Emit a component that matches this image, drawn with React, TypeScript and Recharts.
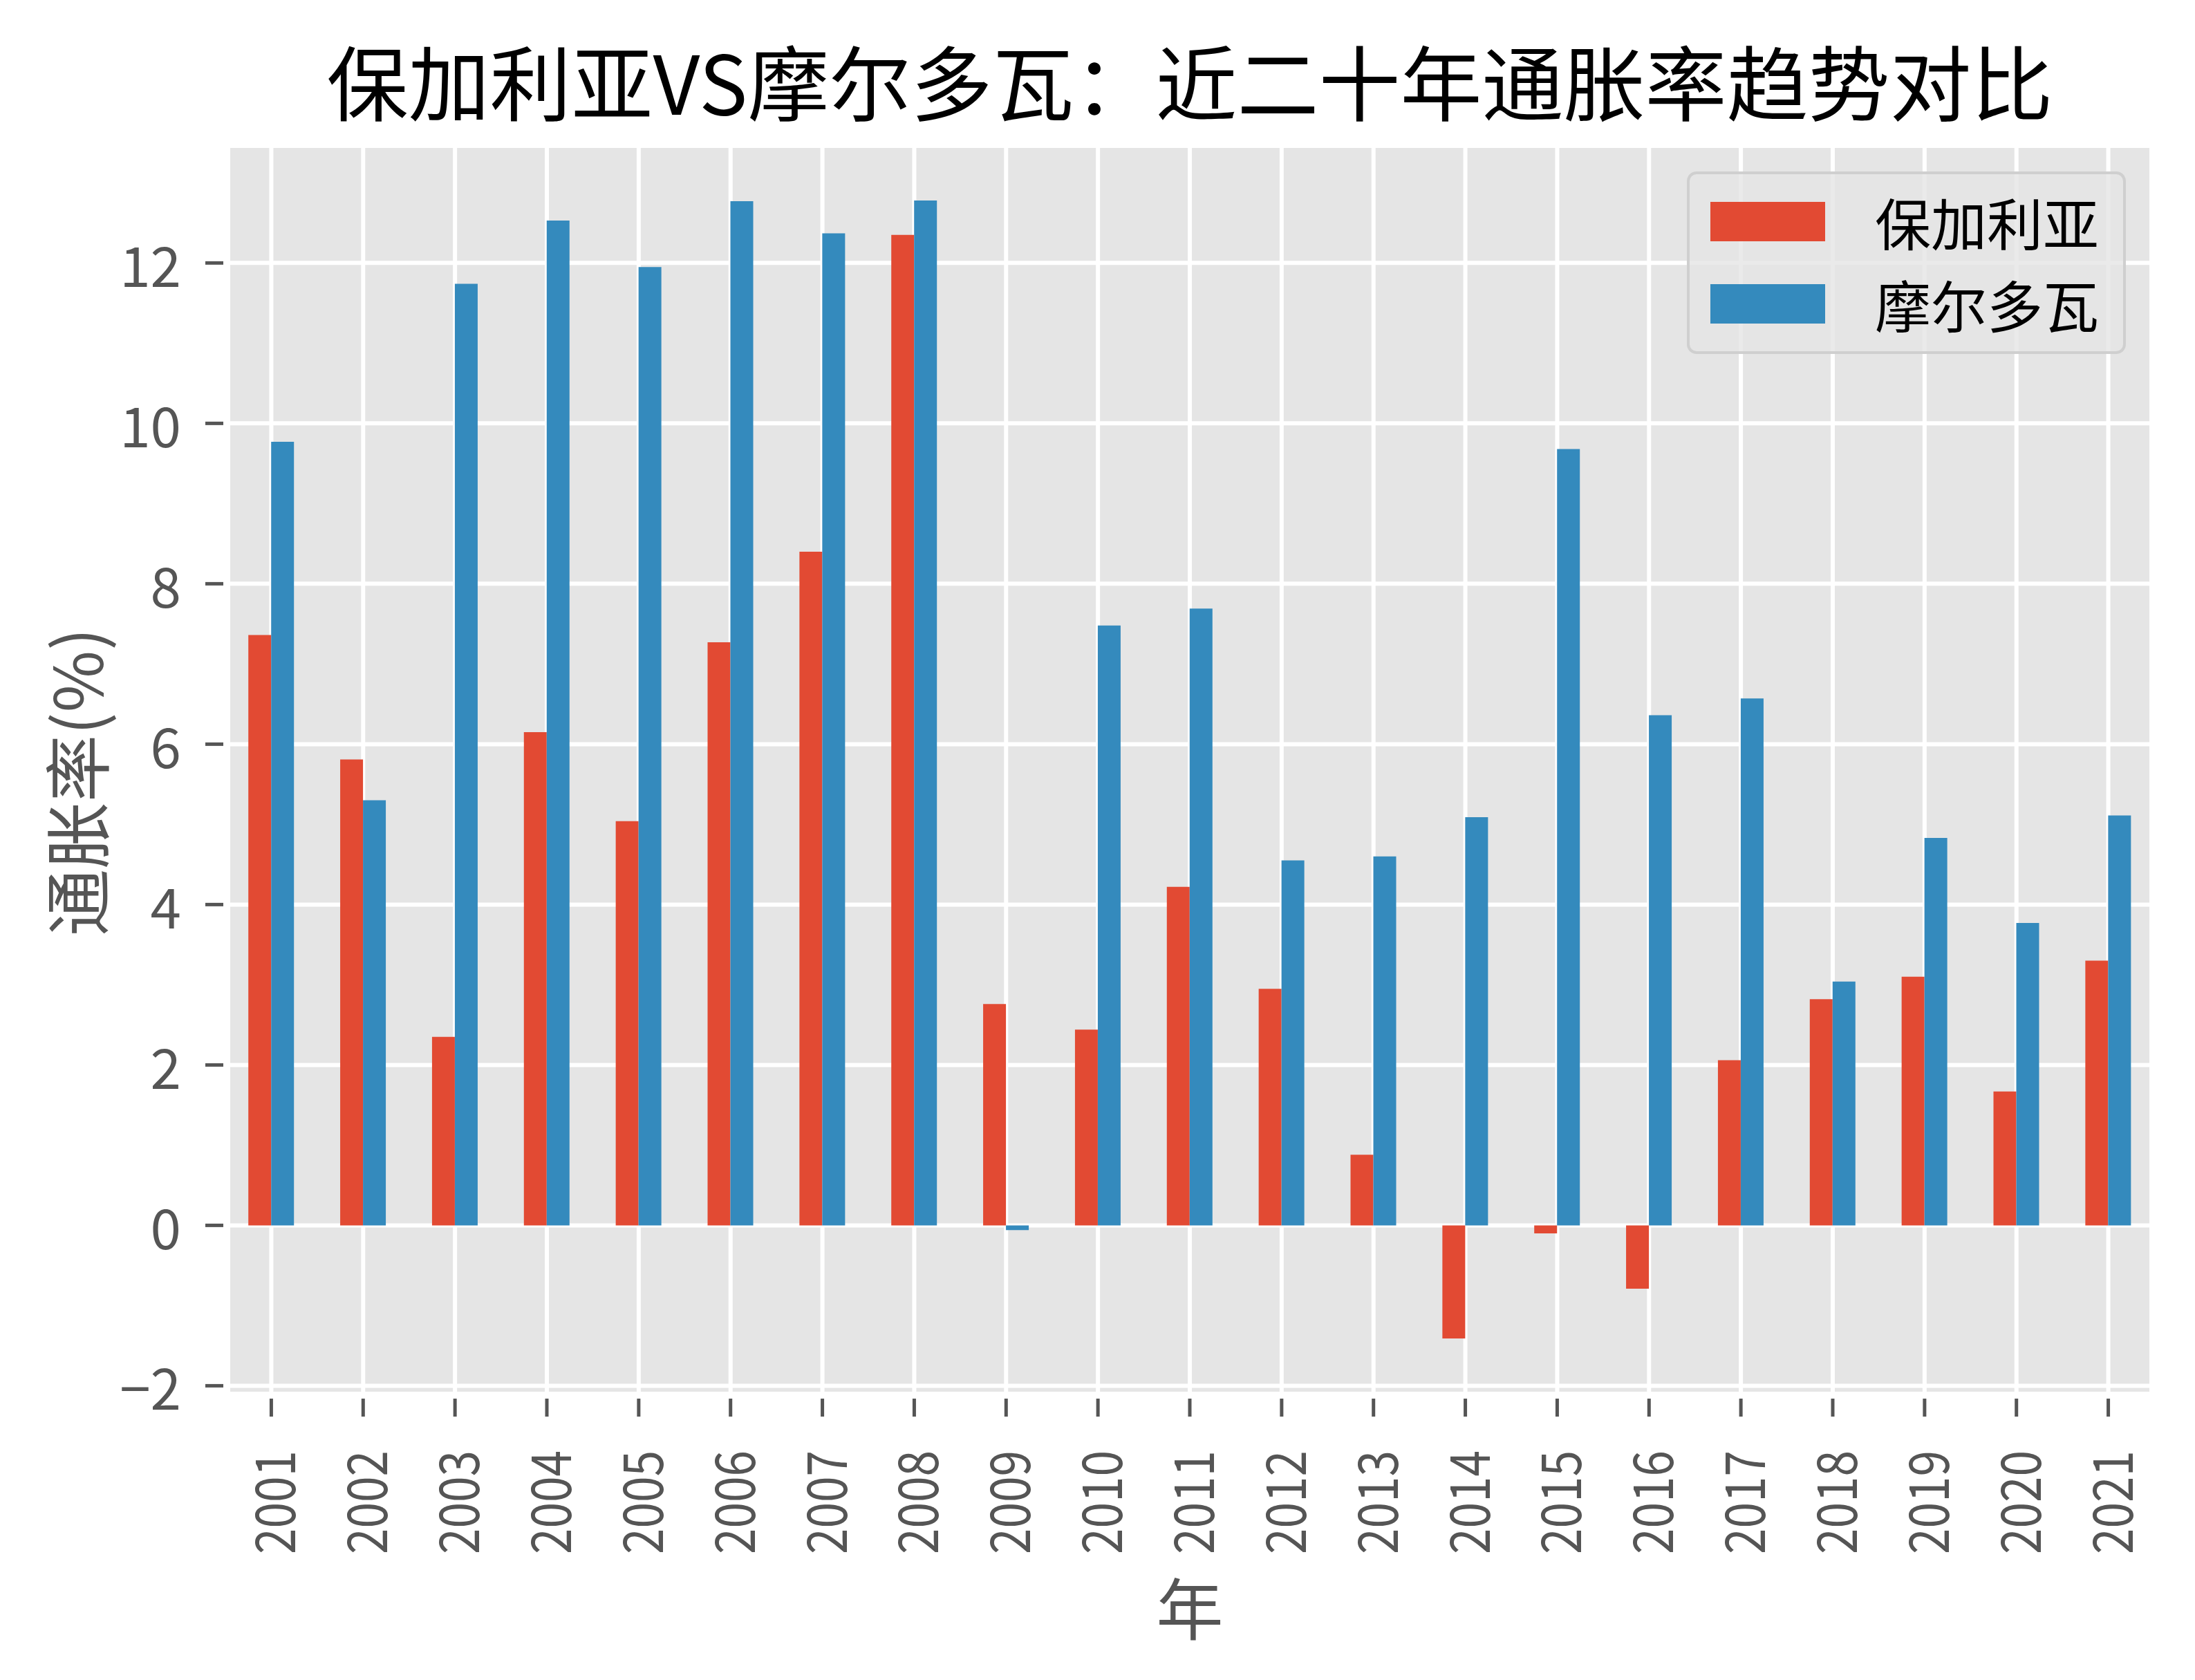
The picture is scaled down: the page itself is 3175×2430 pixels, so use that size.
import { BarChart, Bar, XAxis, YAxis, CartesianGrid, Legend } from 'recharts'

const years = ['2001', '2002', '2003', '2004', '2005', '2006', '2007', '2008', '2009', '2010', '2011', '2012', '2013', '2014', '2015', '2016', '2017', '2018', '2019', '2020', '2021']
const bulgaria = [7.36, 5.81, 2.35, 6.15, 5.04, 7.27, 8.4, 12.35, 2.76, 2.44, 4.22, 2.95, 0.88, -1.41, -0.1, -0.79, 2.06, 2.82, 3.1, 1.67, 3.3]
const moldova = [9.77, 5.3, 11.74, 12.53, 11.95, 12.77, 12.37, 12.78, -0.06, 7.48, 7.69, 4.55, 4.6, 5.09, 9.68, 6.36, 6.57, 3.04, 4.83, 3.77, 5.11]
const yTicks = [-2, 0, 2, 4, 6, 8, 10, 12]

const seriesNames = ['保加利亚', '摩尔多瓦']
const colors = ['#E24A33', '#348ABD']

const data = years.map((y, i) => ({ year: y, bg: bulgaria[i], md: moldova[i] }))

const FONT = '"Noto Sans CJK SC", "Noto Sans", sans-serif'
const TICK_COLOR = '#555555'

// x ticks: short mark below the plot, year label turned 90°
const renderXTick = ({ x, y, payload }: any) => {
  const ty = y + 82
  return (
    <g key={`xt-${payload.value}`}>
      <line x1={x} x2={x} y1={y + 7} y2={y + 33} stroke={TICK_COLOR} strokeWidth={5} />
      <text
        x={x}
        y={ty}
        transform={`rotate(-90, ${x}, ${ty})`}
        textAnchor="end"
        dominantBaseline="central"
        textLength={150}
        lengthAdjust="spacingAndGlyphs"
        fill={TICK_COLOR}
        fontSize={80}
        fontFamily={FONT}
      >
        {payload.value}
      </text>
    </g>
  )
}

const renderYTick = ({ x, y, payload }: any) => {
  const v = payload.value < 0 ? `\u2212${Math.abs(payload.value)}` : `${payload.value}`
  return (
    <g key={`yt-${payload.value}`}>
      <line x1={x - 33} x2={x - 7} y1={y} y2={y} stroke={TICK_COLOR} strokeWidth={5} />
      <text x={x - 68} y={y} textAnchor="end" dominantBaseline="central" fill={TICK_COLOR} fontSize={80} fontFamily={FONT}>
        {v}
      </text>
    </g>
  )
}

function LegendBox() {
  return (
    <div style={{
      position: 'relative',
      width: 635,
      height: 264,
      boxSizing: 'border-box',
      background: 'rgba(229,229,229,0.8)',
      border: '4px solid #cfcfcf',
      borderRadius: 14,
      fontFamily: FONT,
    }}>
      {seriesNames.map((name, i) => (
        <div key={name} style={{ position: 'absolute', left: 30, top: 39 + i * 119, height: 58, display: 'flex', alignItems: 'center' }}>
          <div style={{ width: 166, height: 57, background: colors[i] }} />
          <span style={{ marginLeft: 72, fontSize: 81, lineHeight: '58px', color: '#000' }}>{name}</span>
        </div>
      ))}
    </div>
  )
}

export default function App() {
  return (
    <div style={{ position: 'absolute', left: 0, top: 0, width: 3175, height: 2430, background: '#fff', fontFamily: FONT }}>
      <BarChart
        width={3175}
        height={2430}
        data={data}
        margin={{ top: 211, right: 63, bottom: 0, left: 0 }}
        barCategoryGap="25%"
        barGap={0}
      >
        <CartesianGrid fill="#E5E5E5" stroke="#ffffff" strokeWidth={6} />
        <XAxis
          dataKey="year"
          height={414}
          axisLine={false}
          tickLine={false}
          tickSize={0}
          tickMargin={0}
          padding={{ left: -4, right: -4 }}
          interval={0}
          tick={renderXTick}
        />
        <YAxis
          width={330}
          domain={[-2.1, 13.46]}
          ticks={yTicks}
          allowDataOverflow
          axisLine={false}
          tickLine={false}
          tickSize={0}
          tickMargin={0}
          tick={renderYTick}
        />
        <Legend
          layout="horizontal"
          verticalAlign="middle"
          align="center"
          wrapperStyle={{ left: 2440, top: 248, width: 635, height: 264 }}
          content={() => <LegendBox />}
        />
        <Bar dataKey="bg" name={seriesNames[0]} fill={colors[0]} isAnimationActive={false} />
        <Bar dataKey="md" name={seriesNames[1]} fill={colors[1]} isAnimationActive={false} />
      </BarChart>

      <div style={{ position: 'absolute', left: 1721, top: 115, transform: 'translate(-50%, -50%)', fontSize: 118, lineHeight: 1, color: '#000', whiteSpace: 'nowrap' }}>
        保加利亚VS摩尔多瓦：近二十年通胀率趋势对比
      </div>
      <div style={{ position: 'absolute', left: 106, top: 1131, transform: 'translate(-50%, -50%) rotate(-90deg)', fontSize: 97, lineHeight: 1, color: TICK_COLOR, whiteSpace: 'nowrap' }}>
        通胀率(%)
      </div>
      <div style={{ position: 'absolute', left: 1721, top: 2321, transform: 'translate(-50%, -50%)', fontSize: 97, lineHeight: 1, color: TICK_COLOR, whiteSpace: 'nowrap' }}>
        年
      </div>
    </div>
  )
}
